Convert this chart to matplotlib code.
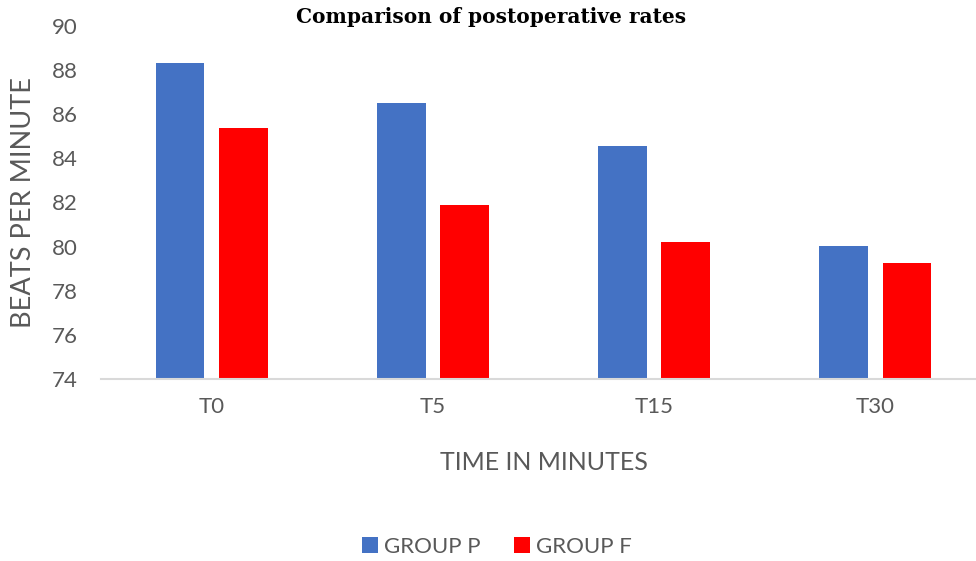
import numpy as np
import matplotlib.pyplot as plt

# data
categories = ['T0', 'T5', 'T15', 'T30']
group_p = [88.34, 86.53, 84.58, 80.02]
group_f = [85.37, 81.87, 80.23, 79.25]
yticks = [74, 76, 78, 80, 82, 84, 86, 88, 90]

grey = '#595959'
font = ['Lato', 'DejaVu Sans']

fig = plt.figure(figsize=(9.76, 5.61), dpi=100)
ax = fig.add_axes([101 / 976, 1 - 379 / 561, 1 - 101 / 976, (379 - 26) / 561])

x = np.arange(len(categories))
w = 0.22
off = 0.143
ax.bar(x - off, group_p, w, color='#4472C4', label='GROUP P')
ax.bar(x + off, group_f, w, color='#FF0000', label='GROUP F')

ax.set_ylim(74, 90)
ax.set_xlim(-0.5, 3.455)
ax.set_yticks(yticks)
ax.set_xticks(x)
ax.set_xticklabels(categories)
for lab in ax.get_xticklabels() + ax.get_yticklabels():
    lab.set_family(font)
    lab.set_fontsize(16)
    lab.set_color(grey)
ax.tick_params(axis='y', length=0, pad=17)
ax.tick_params(axis='x', length=0, pad=13)

for s in ['top', 'right', 'left']:
    ax.spines[s].set_visible(False)
ax.spines['bottom'].set_color('#d9d9d9')
ax.spines['bottom'].set_linewidth(1.5)

fig.text(491 / 976, 1 - 17 / 561, 'Comparison of postoperative rates', ha='center', va='center',
         fontsize=14.5, fontweight='bold', family=['DejaVu Serif'])
fig.text(544 / 976, 1 - 463 / 561, 'TIME IN MINUTES', ha='center', va='center',
         fontsize=18, color=grey, family=font)
fig.text(24 / 976, 1 - 203 / 561, 'BEATS PER MINUTE', ha='center', va='center', rotation=90,
         fontsize=19.5, color=grey, family=font)

leg = fig.legend(loc='center', bbox_to_anchor=(497 / 976, 1 - 547 / 561), ncol=2, frameon=False,
                 handlelength=0.7, handleheight=0.7, handletextpad=0.3, columnspacing=1.5,
                 prop={'family': font, 'size': 16})
for t in leg.get_texts():
    t.set_color(grey)

fig.savefig('out.png', dpi=100)
